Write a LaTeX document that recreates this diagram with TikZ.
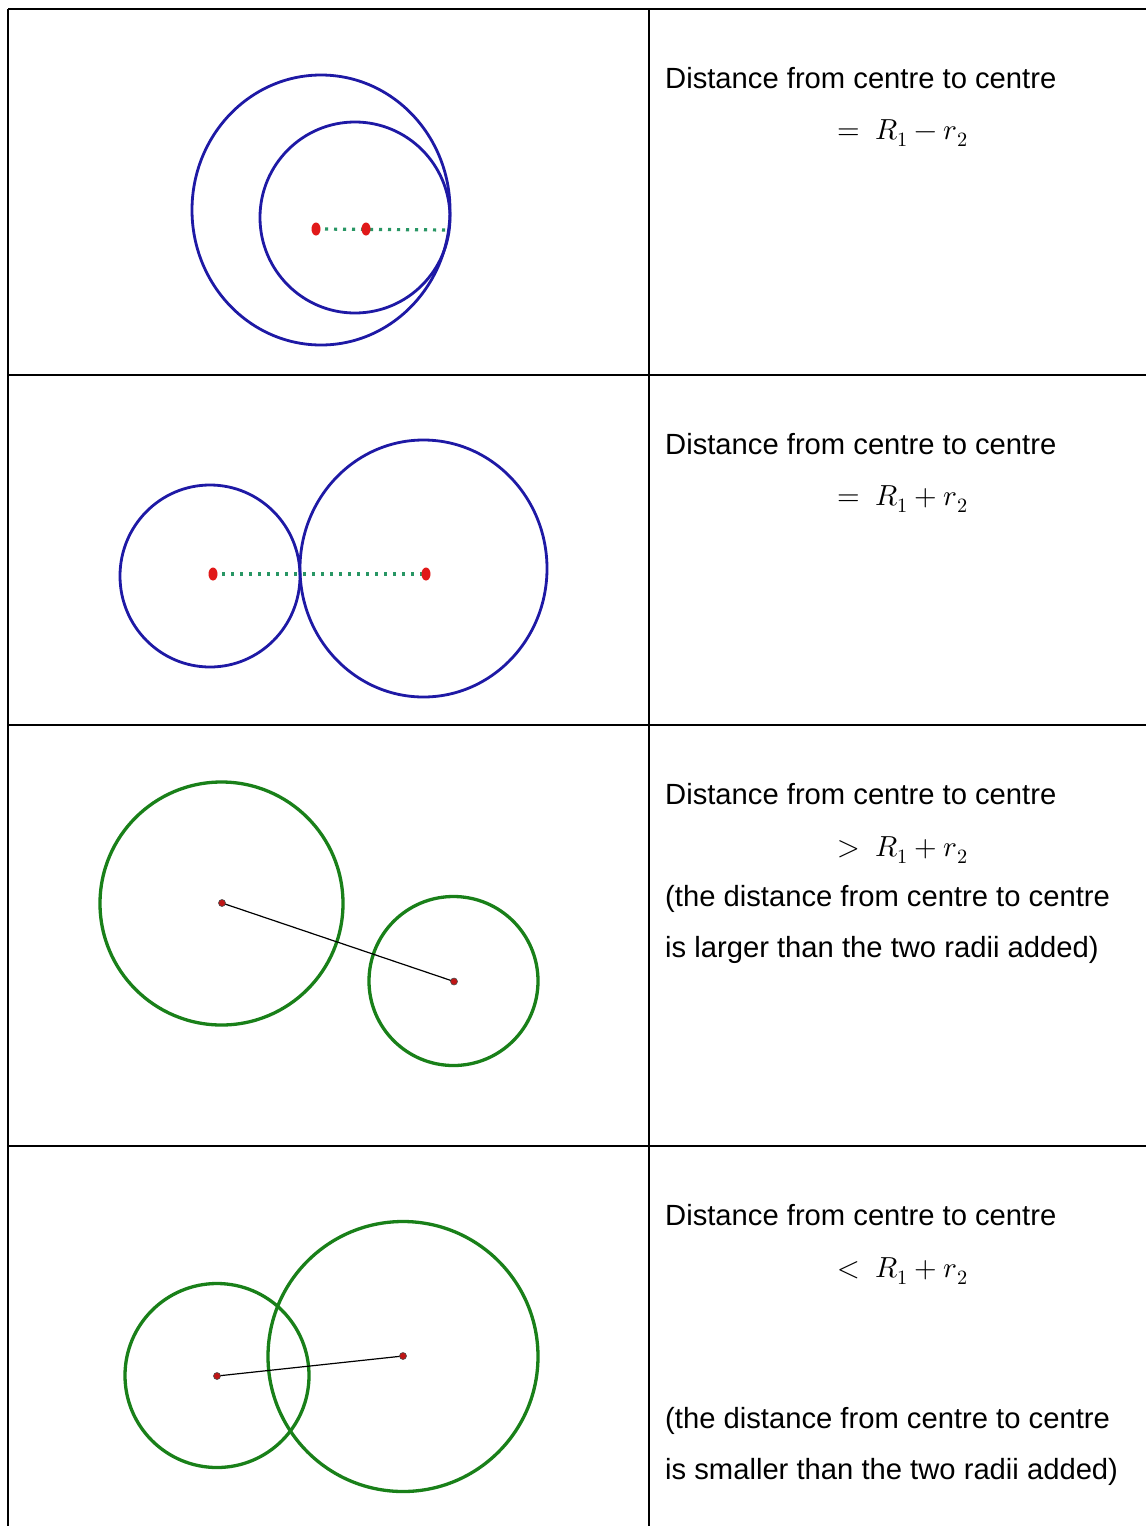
\documentclass[tikz,border=0pt]{standalone}
\usepackage{fontspec}
\usepackage{unicode-math}
\setmainfont{Liberation Sans}
\setmathfont{Latin Modern Math}
\definecolor{cblue}{RGB}{30,25,165}
\definecolor{cgreen}{RGB}{25,128,25}
\definecolor{cdot}{RGB}{40,150,100}
\definecolor{cred}{RGB}{225,25,25}
\tikzset{
  grid/.style={line width=2pt,black},
  bluecirc/.style={draw=cblue,line width=2.8pt},
  greencirc/.style={draw=cgreen,line width=3.3pt},
  dotline/.style={draw=cdot,line width=3.2pt,dash pattern=on 3.2pt off 5.8pt},
  bigdot/.style={fill=cred},
  smalldot/.style={fill=cred!85!black,draw=black!70,line width=0.6pt},
  thinline/.style={draw=black,line width=1.2pt},
  txt/.style={anchor=base west,inner sep=0pt,font=\fontsize{29.2}{35}\selectfont},
  mth/.style={anchor=base west,inner sep=0pt,font=\fontsize{29}{35}\selectfont},
}
\begin{document}
\begin{tikzpicture}[x=1pt,y=-1pt]
\useasboundingbox (0,0) rectangle (1146,1526);
\fill[white] (0,0) rectangle (1146,1526);
% table grid
\draw[grid] (8,9) -- (1146,9);
\draw[grid] (8,375) -- (1146,375);
\draw[grid] (8,725) -- (1146,725);
\draw[grid] (8,1146) -- (1146,1146);
\draw[grid] (8,9) -- (8,1526);
\draw[grid] (649,9) -- (649,1526);

% Panel 1
\draw[bluecirc] (321,210) ellipse [x radius=129, y radius=135];
\draw[bluecirc] (355,217.5) ellipse [x radius=95, y radius=95.5];
\coordinate (p1a) at (316,229);
\coordinate (p1b) at (366,229);
\coordinate (p1e) at (449,230);
\draw[dotline] (p1a) -- (p1e);
\fill[bigdot] (p1a) ellipse [x radius=4.5, y radius=6.5];
\fill[bigdot] (p1b) ellipse [x radius=4.5, y radius=6.5];

% Panel 2
\draw[bluecirc] (210,576) ellipse [x radius=90, y radius=91];
\draw[bluecirc] (423.5,568.5) ellipse [x radius=123.5, y radius=128.5];
\coordinate (p2a) at (213,574);
\coordinate (p2b) at (426,574);
\draw[dotline] (p2a) -- (p2b);
\fill[bigdot] (p2a) ellipse [x radius=4.5, y radius=6.5];
\fill[bigdot] (p2b) ellipse [x radius=4.5, y radius=6.5];

% Panel 3
\draw[greencirc] (221.5,903.5) circle [radius=121.5];
\draw[greencirc] (453.5,981) circle [radius=84.5];
\coordinate (p3a) at (222,903);
\coordinate (p3b) at (454,981.5);
\draw[thinline] (p3a) -- (p3b);
\filldraw[smalldot] (p3a) circle [radius=3.5];
\filldraw[smalldot] (p3b) circle [radius=3.5];

% Panel 4
\draw[greencirc] (217,1375.5) circle [radius=92];
\draw[greencirc] (403,1356.5) circle [radius=135];
\coordinate (p4a) at (217,1376);
\coordinate (p4b) at (403,1356);
\draw[thinline] (p4a) -- (p4b);
\filldraw[smalldot] (p4a) circle [radius=3.5];
\filldraw[smalldot] (p4b) circle [radius=3.5];

% Texts
\node[txt] (t1) at (665,88) {Distance from centre to centre};
\node[mth] (m1) at (837,139) {$=\;R_1-r_2$};
\node[txt] (t2) at (665,454) {Distance from centre to centre};
\node[mth] (m2) at (837,505) {$=\;R_1+r_2$};
\node[txt] (t3) at (665,804) {Distance from centre to centre};
\node[mth] (m3) at (837,856) {$>\;R_1+r_2$};
\node[txt] (t3b) at (665,906) {(the distance from centre to centre};
\node[txt] (t3c) at (665,957) {is larger than the two radii added)};
\node[txt] (t4) at (665,1225) {Distance from centre to centre};
\node[mth] (m4) at (837,1277) {$<\;R_1+r_2$};
\node[txt] (t4b) at (665,1428) {(the distance from centre to centre};
\node[txt] (t4c) at (665,1479) {is smaller than the two radii added)};
\end{tikzpicture}
\end{document}
